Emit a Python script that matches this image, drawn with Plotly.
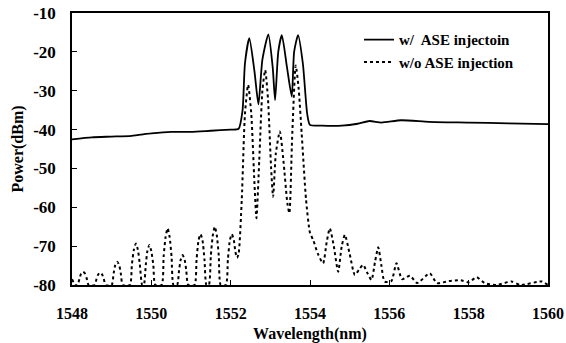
import plotly.graph_objects as go

# w/ ASE injection (solid)
wl_ase = [1548.0, 1548.5, 1549.0, 1549.5, 1550.0, 1550.5, 1551.0, 1551.5, 1552.0, 1552.2,
          1552.3, 1552.36, 1552.47, 1552.6, 1552.70, 1552.8, 1552.95, 1553.06, 1553.12, 1553.2,
          1553.29, 1553.42, 1553.54, 1553.6, 1553.70, 1553.82, 1553.93, 1554.0, 1554.3, 1554.8,
          1555.2, 1555.5, 1555.8, 1556.3, 1557.0, 1558.0, 1559.0, 1560.0]
p_ase = [-42.5, -42.0, -41.8, -41.6, -41.0, -40.6, -40.6, -40.3, -40.0, -39.8,
         -35.0, -23.0, -16.5, -25.0, -33.5, -22.0, -15.5, -24.0, -32.4, -20.0,
         -15.7, -24.0, -31.5, -20.0, -15.7, -23.0, -36.0, -38.8, -39.0, -39.0,
         -38.5, -37.8, -38.2, -37.6, -38.0, -38.2, -38.4, -38.6]

# w/o ASE injection (dotted)
wl_no = [1548.0, 1548.08,
         1548.14, 1548.19, 1548.23, 1548.28, 1548.33, 1548.37, 1548.42,
         1548.57, 1548.62, 1548.66, 1548.71, 1548.76, 1548.80, 1548.85,
         1549.00, 1549.05, 1549.09, 1549.14, 1549.19, 1549.23, 1549.28,
         1549.46, 1549.51, 1549.56, 1549.61, 1549.66, 1549.71, 1549.77,
         1549.81, 1549.86, 1549.90, 1549.95, 1550.00, 1550.05, 1550.10,
         1550.26, 1550.31, 1550.36, 1550.41, 1550.46, 1550.51, 1550.56,
         1550.65, 1550.70, 1550.74, 1550.79, 1550.84, 1550.88, 1550.93,
         1551.09, 1551.14, 1551.19, 1551.24, 1551.29, 1551.34, 1551.39,
         1551.45, 1551.50, 1551.55, 1551.60, 1551.65, 1551.70, 1551.75,
         1551.88, 1551.93, 1551.98, 1552.03, 1552.08, 1552.12, 1552.16,
         1552.20, 1552.28, 1552.36, 1552.44, 1552.52, 1552.60, 1552.65, 1552.72, 1552.80,
         1552.87, 1552.94, 1553.02, 1553.07, 1553.14, 1553.24, 1553.33, 1553.43, 1553.48,
         1553.55, 1553.64, 1553.71, 1553.79, 1553.9, 1554.0, 1554.08, 1554.2, 1554.33,
         1554.42, 1554.5, 1554.6, 1554.71, 1554.80, 1554.88, 1555.0, 1555.13, 1555.24,
         1555.34, 1555.45, 1555.55, 1555.64, 1555.72, 1555.80, 1555.88, 1556.05, 1556.18,
         1556.32, 1556.52, 1556.7, 1557.02, 1557.2, 1557.5, 1557.8, 1558.0, 1558.2,
         1558.4, 1558.7, 1559.08, 1559.3, 1559.84, 1560.0]
p_no = [-78.5, -80,
        -80, -78.3, -77.1, -76.6, -77.1, -78.3, -80,
        -80, -78.4, -77.3, -76.8, -77.3, -78.4, -80,
        -80, -77.0, -74.9, -74.0, -74.9, -77.0, -80,
        -80, -74.7, -70.9, -69.3, -70.9, -74.7, -80,
        -80, -74.9, -71.3, -69.7, -71.3, -74.9, -80,
        -80, -72.7, -67.6, -65.4, -67.6, -72.7, -80,
        -80, -76.2, -73.5, -72.3, -73.5, -76.2, -80,
        -80, -73.5, -68.5, -66.9, -68.5, -73.5, -80,
        -80, -72.5, -67.2, -65.0, -67.2, -72.5, -80,
        -80, -73.5, -68.5, -66.9, -68.5, -71.5, -73.0,
        -72.0, -58.0, -36.0, -28.5, -36.0, -54.0, -62.8, -48.0, -30.0,
        -24.7, -32.0, -50.0, -57.3, -46.0, -40.5, -48.0, -59.0, -61.5,
        -42.0, -23.5, -29.0, -41.0, -58.0, -66.6, -68.4, -72.0, -74.4,
        -69.0, -65.4, -70.0, -76.6, -70.0, -67.1, -72.0, -77.4, -76.0,
        -74.8, -77.0, -78.7, -74.0, -70.3, -75.0, -79.1, -79.0, -74.4,
        -78.5, -77.6, -79.5, -77.0, -79.5, -79.0, -78.8, -79.3, -78.0,
        -79.5, -80, -79.1, -80, -79.1, -80]

x_ticks = [1548, 1550, 1552, 1554, 1556, 1558, 1560]
y_ticks = [-80, -70, -60, -50, -40, -30, -20, -10]

font_family = '"Liberation Serif", "Times New Roman", serif'

fig = go.Figure()
fig.add_trace(go.Scatter(x=wl_ase, y=p_ase, mode="lines", name="w/  ASE injectoin",
                         line=dict(color="black", width=1.8, shape="spline", smoothing=0.6)))
fig.add_trace(go.Scatter(x=wl_no, y=p_no, mode="lines", name="w/o ASE injection",
                         line=dict(color="black", width=2, dash="dot", shape="spline", smoothing=0.6)))

fig.update_layout(
    width=566, height=343,
    margin=dict(l=72, r=18, t=13, b=58, autoexpand=False),
    paper_bgcolor="white", plot_bgcolor="white",
    font=dict(family=font_family, size=14, color="black"),
    showlegend=True,
    legend=dict(x=0.603, y=0.962, xanchor="left", yanchor="top",
                bgcolor="rgba(255,255,255,0)", borderwidth=0,
                font=dict(family=font_family, size=15, color="black", weight="bold"),
                tracegroupgap=0, itemwidth=30),
)
fig.update_xaxes(range=[1548, 1560], tickvals=x_ticks, ticktext=[str(v) for v in x_ticks],
                 automargin=False, ticklabeloverflow="allow",
                 showgrid=False, zeroline=False, showline=True, linecolor="black", linewidth=1.5,
                 mirror=True, ticks="inside", ticklen=5, tickcolor="black", ticklabelstandoff=13,
                 tickfont=dict(family=font_family, size=16, weight="bold"),
                 title=dict(text="<b>Wavelength(nm)</b>", font=dict(family=font_family, size=16), standoff=7))
fig.update_yaxes(range=[-80, -10], tickvals=y_ticks, ticktext=[str(v) for v in y_ticks],
                 automargin=False, ticklabeloverflow="allow",
                 showgrid=False, zeroline=False, showline=True, linecolor="black", linewidth=1.5,
                 mirror=True, ticks="inside", ticklen=5, tickcolor="black", ticklabelstandoff=11,
                 tickfont=dict(family=font_family, size=17, weight="bold"),
                 title=dict(text="<b>Power(dBm)</b>", font=dict(family=font_family, size=16), standoff=6))

# remove the browser's default 8px body margin so the figure fills the window exactly
fig.write_html("out.html", config={"displayModeBar": False},
               post_script="document.body.style.margin='0';")
